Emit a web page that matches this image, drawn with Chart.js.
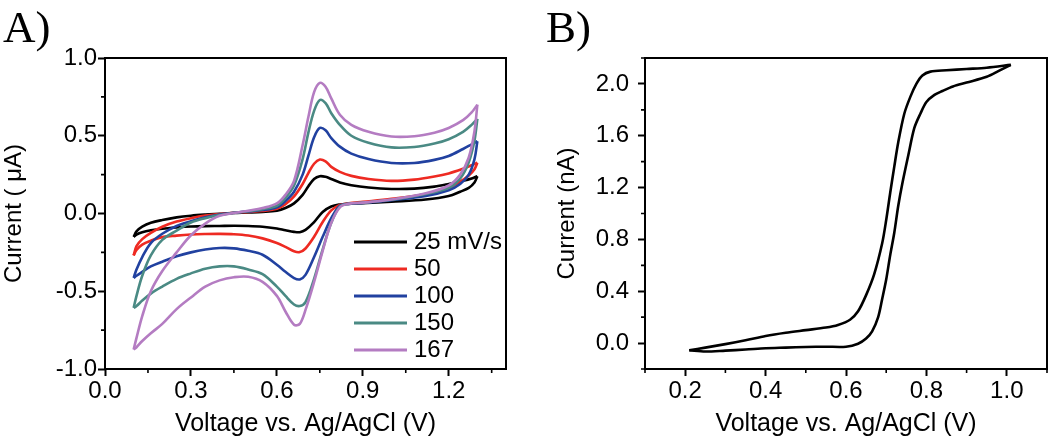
<!DOCTYPE html>
<html>
<head>
<meta charset="utf-8">
<script src="https://cdn.jsdelivr.net/npm/chart.js@4.4.1/dist/chart.umd.min.js"></script>
<style>
  html, body { margin: 0; padding: 0; background: #fff; }
  #wrap { position: relative; width: 1050px; height: 447px; overflow: hidden; }
  .panel { position: absolute; top: 0; width: 525px; height: 447px; }
  .panel canvas { display: block; }
  #panelA { left: 0; }
  #panelB { left: 525px; }
  .tag { position: absolute; font-family: "Liberation Serif", "Times New Roman", serif; font-size: 45px; line-height: 1; color: #000; }
</style>
</head>
<body>
<div id="wrap">
  <div class="panel" id="panelA"><canvas id="cvChart" width="525" height="447"></canvas></div>
  <div class="panel" id="panelB"><canvas id="sweepChart" width="525" height="447"></canvas></div>
  <div class="tag" style="left:3px;top:5px">A)</div>
  <div class="tag" style="left:546px;top:5px">B)</div>
</div>
<script>
// ---- panel A : cyclic voltammograms at several scan rates ----
const scanRates = ['25 mV/s', '50', '100', '150', '167'];
const rateColors = ['#000000', '#ee2a22', '#2141a0', '#4a8a84', '#b47cc2'];

// potential grid (V) for the anodic (forward) and cathodic (reverse) sweeps
const vForward = [0.10, 0.11, 0.13, 0.16, 0.20, 0.25, 0.30, 0.35, 0.40, 0.45, 0.50, 0.55,
  0.60, 0.63, 0.66, 0.69, 0.71, 0.73, 0.75, 0.77, 0.79, 0.82, 0.86, 0.92, 1.00, 1.08, 1.15, 1.20, 1.25, 1.28, 1.30];
const vReverse = [1.30, 1.29, 1.27, 1.24, 1.20, 1.12, 1.00, 0.90, 0.85, 0.82, 0.79, 0.76, 0.73, 0.70, 0.68,
  0.66, 0.63, 0.60, 0.55, 0.50, 0.45, 0.40, 0.35, 0.30, 0.25, 0.20, 0.16, 0.13, 0.11, 0.10];

// current (uA)
const i25Fwd = [-0.15, -0.115, -0.085, -0.06, -0.042, -0.025, -0.014, -0.007, -0.002, 0.003, 0.006, 0.01,
  0.018, 0.035, 0.065, 0.12, 0.175, 0.222, 0.24, 0.236, 0.222, 0.2, 0.182, 0.167, 0.158, 0.16, 0.173, 0.19, 0.21, 0.225, 0.24];
const i25Rev = [0.24, 0.2, 0.165, 0.14, 0.112, 0.09, 0.076, 0.066, 0.062, 0.058, 0.045, 0.01, -0.055, -0.105, -0.12,
  -0.118, -0.108, -0.097, -0.085, -0.08, -0.079, -0.08, -0.081, -0.084, -0.09, -0.098, -0.108, -0.12, -0.135, -0.15];

const i50Fwd = [-0.27, -0.21, -0.165, -0.125, -0.085, -0.052, -0.03, -0.013, -0.003, 0.005, 0.01, 0.016,
  0.03, 0.06, 0.11, 0.19, 0.26, 0.32, 0.347, 0.335, 0.3, 0.268, 0.242, 0.222, 0.21, 0.218, 0.238, 0.258, 0.288, 0.31, 0.326];
const i50Rev = [0.326, 0.285, 0.245, 0.205, 0.165, 0.125, 0.094, 0.075, 0.066, 0.055, 0.02, -0.055, -0.15, -0.225, -0.248,
  -0.243, -0.215, -0.19, -0.16, -0.141, -0.133, -0.131, -0.132, -0.135, -0.142, -0.152, -0.175, -0.2, -0.235, -0.27];

const i100Fwd = [-0.414, -0.36, -0.28, -0.19, -0.13, -0.08, -0.05, -0.025, -0.006, 0.005, 0.013, 0.022,
  0.04, 0.08, 0.14, 0.25, 0.37, 0.49, 0.55, 0.535, 0.485, 0.43, 0.385, 0.35, 0.325, 0.325, 0.345, 0.37, 0.415, 0.445, 0.465];
const i100Rev = [0.465, 0.35, 0.25, 0.19, 0.15, 0.113, 0.086, 0.068, 0.062, 0.05, -0.03, -0.15, -0.28, -0.395, -0.424,
  -0.415, -0.375, -0.33, -0.265, -0.24, -0.224, -0.222, -0.232, -0.25, -0.275, -0.31, -0.34, -0.375, -0.4, -0.414];

const i150Fwd = [-0.607, -0.53, -0.4, -0.27, -0.17, -0.11, -0.058, -0.03, -0.01, 0.004, 0.015, 0.028,
  0.05, 0.1, 0.18, 0.35, 0.52, 0.66, 0.73, 0.71, 0.645, 0.57, 0.5, 0.455, 0.425, 0.428, 0.45, 0.478, 0.525, 0.57, 0.609];
const i150Rev = [0.609, 0.47, 0.33, 0.225, 0.165, 0.125, 0.088, 0.07, 0.063, 0.045, -0.06, -0.23, -0.42, -0.57, -0.595,
  -0.585, -0.53, -0.47, -0.39, -0.36, -0.34, -0.34, -0.355, -0.385, -0.42, -0.47, -0.515, -0.56, -0.595, -0.607];

const i167Fwd = [-0.875, -0.8, -0.66, -0.5, -0.37, -0.25, -0.14, -0.065, -0.015, 0.003, 0.018, 0.035,
  0.065, 0.12, 0.21, 0.44, 0.62, 0.78, 0.84, 0.815, 0.74, 0.635, 0.57, 0.525, 0.495, 0.497, 0.52, 0.55, 0.6, 0.65, 0.70];
const i167Rev = [0.70, 0.53, 0.36, 0.25, 0.18, 0.13, 0.09, 0.07, 0.062, 0.04, -0.06, -0.24, -0.44, -0.62, -0.71,
  -0.715, -0.63, -0.53, -0.44, -0.407, -0.41, -0.43, -0.47, -0.54, -0.615, -0.71, -0.77, -0.82, -0.86, -0.875];

const aTicksX = [0, 0.3, 0.6, 0.9, 1.2];
const aTicksY = [-1, -0.5, 0, 0.5, 1];
const aMinorX = [0.15, 0.45, 0.75, 1.05, 1.35];
const aMinorY = [-0.75, -0.25, 0.25, 0.75];

// ---- panel B : single sweep (nA) ----
const bVoltUp = [0.21, 0.25, 0.30, 0.35, 0.40, 0.45, 0.50, 0.55, 0.58, 0.61, 0.63, 0.65, 0.67, 0.69,
  0.70, 0.71, 0.72, 0.73, 0.745, 0.76, 0.775, 0.79, 0.81, 0.85, 0.90, 0.95, 1.01];
const bCurrUp = [-0.055, -0.035, -0.008, 0.022, 0.055, 0.08, 0.1, 0.12, 0.14, 0.18, 0.245, 0.37, 0.53, 0.77,
  0.95, 1.16, 1.36, 1.55, 1.77, 1.9, 2.0, 2.065, 2.095, 2.105, 2.115, 2.125, 2.147];
const bVoltDown = [1.01, 0.98, 0.95, 0.90, 0.866, 0.84, 0.82, 0.80, 0.785, 0.77, 0.755, 0.74, 0.73, 0.72, 0.71,
  0.70, 0.69, 0.68, 0.665, 0.65, 0.63, 0.60, 0.55, 0.50, 0.45, 0.40, 0.35, 0.30, 0.25, 0.21];
const bCurrDown = [2.147, 2.1, 2.055, 2.01, 1.98, 1.945, 1.915, 1.86, 1.77, 1.66, 1.45, 1.23, 1.06, 0.85, 0.68,
  0.49, 0.34, 0.2, 0.09, 0.035, -0.005, -0.028, -0.028, -0.03, -0.035, -0.04, -0.05, -0.058, -0.065, -0.055];

const bTicksX = [0.2, 0.4, 0.6, 0.8, 1.0];
const bTicksY = [0, 0.4, 0.8, 1.2, 1.6, 2.0];
const bMinorX = [0.1, 0.3, 0.5, 0.7, 0.9, 1.1];
const bMinorY = [-0.2, 0.2, 0.6, 1.0, 1.4, 1.8, 2.2];

const FONT = '"Liberation Sans", Arial, sans-serif';
Chart.defaults.font.family = FONT;
Chart.defaults.font.size = 24;
Chart.defaults.color = '#000';

const toPoints = (xs, ys) => xs.map((x, i) => ({ x: x, y: ys[i] }));
const fixedTicks = values => scale => { scale.ticks = values.map(v => ({ value: v })); };

// box round the plot + short minor ticks
const frameAndMinorTicks = {
  id: 'frameAndMinorTicks',
  afterDraw(chart, args, opts) {
    const { ctx, chartArea: a, scales } = chart;
    ctx.save();
    ctx.strokeStyle = '#000';
    ctx.lineWidth = 2;
    ctx.strokeRect(a.left, a.top, a.right - a.left, a.bottom - a.top);
    ctx.lineWidth = 1.6;
    ctx.beginPath();
    opts.minorX.forEach(v => {
      const px = scales.x.getPixelForValue(v);
      ctx.moveTo(px, a.bottom);
      ctx.lineTo(px, a.bottom + 4);
    });
    opts.minorY.forEach(v => {
      const py = scales.y.getPixelForValue(v);
      ctx.moveTo(a.left, py);
      ctx.lineTo(a.left - 4, py);
    });
    ctx.stroke();
    ctx.restore();
  }
};

// legend drawn inside the plot area
const insideLegend = {
  id: 'insideLegend',
  afterDraw(chart, args, opts) {
    if (!opts.labels) return;
    const ctx = chart.ctx;
    ctx.save();
    ctx.font = '24px ' + FONT;
    ctx.textBaseline = 'middle';
    ctx.textAlign = 'left';
    opts.labels.forEach((label, i) => {
      const y = opts.y + i * opts.rowHeight;
      ctx.strokeStyle = opts.colors[i];
      ctx.lineWidth = 3;
      ctx.beginPath();
      ctx.moveTo(opts.x, y);
      ctx.lineTo(opts.x + opts.lineLength, y);
      ctx.stroke();
      ctx.fillStyle = '#000';
      ctx.fillText(label, opts.x + opts.lineLength + 7, y);
    });
    ctx.restore();
  }
};

function axisX(min, max, ticks, padding) {
  return {
    type: 'linear', min: min, max: max,
    afterBuildTicks: fixedTicks(ticks),
    afterFit: s => { s.height = 78; },
    border: { display: false },
    grid: { drawOnChartArea: false, drawTicks: true, tickLength: 7, tickWidth: 2, tickColor: '#000' },
    ticks: { callback: v => v.toFixed(1), padding: padding, maxRotation: 0, autoSkip: false },
    title: { display: true, text: 'Voltage vs. Ag/AgCl (V)', font: { size: 25 }, padding: { top: 0, bottom: 8 } }
  };
}

function axisY(min, max, ticks, width, padding, title, titlePad) {
  return {
    type: 'linear', min: min, max: max,
    afterBuildTicks: fixedTicks(ticks),
    afterFit: s => { s.width = width; },
    border: { display: false },
    grid: { drawOnChartArea: false, drawTicks: true, tickLength: 7, tickWidth: 2, tickColor: '#000' },
    ticks: { callback: v => v.toFixed(1), padding: padding, autoSkip: false },
    title: { display: true, text: title, font: { size: 24 }, padding: { top: titlePad, bottom: 0 } }
  };
}

const cvSets = [
  [i25Fwd, i25Rev], [i50Fwd, i50Rev], [i100Fwd, i100Rev], [i150Fwd, i150Rev], [i167Fwd, i167Rev]
];
const cvDatasets = [];
cvSets.forEach((pair, k) => {
  [toPoints(vForward, pair[0]), toPoints(vReverse, pair[1])].forEach(pts => {
    cvDatasets.push({
      label: scanRates[k], data: pts,
      borderColor: rateColors[k], borderWidth: 2.6,
      showLine: true, pointRadius: 0, tension: 0.35, fill: false,
      order: 10 - k
    });
  });
});

new Chart(document.getElementById('cvChart'), {
  type: 'scatter',
  data: { datasets: cvDatasets },
  options: {
    responsive: false, animation: false, devicePixelRatio: 1, events: [],
    layout: { padding: { top: 58, right: 19, left: 0, bottom: 0 } },
    plugins: {
      legend: { display: false }, tooltip: { enabled: false },
      frameAndMinorTicks: { minorX: aMinorX, minorY: aMinorY },
      insideLegend: { labels: scanRates, colors: rateColors, x: 354, y: 242, rowHeight: 27, lineLength: 53 }
    },
    scales: {
      x: axisX(0, 1.4, aTicksX, 1),
      y: axisY(-1, 1, aTicksY, 105, 1, 'Current ( \u03bcA)', 0)
    }
  },
  plugins: [frameAndMinorTicks, insideLegend]
});

new Chart(document.getElementById('sweepChart'), {
  type: 'scatter',
  data: {
    datasets: [
      { data: toPoints(bVoltUp, bCurrUp), borderColor: '#000', borderWidth: 2.6, showLine: true, pointRadius: 0, tension: 0.3 },
      { data: toPoints(bVoltDown, bCurrDown), borderColor: '#000', borderWidth: 2.6, showLine: true, pointRadius: 0, tension: 0.3 }
    ]
  },
  options: {
    responsive: false, animation: false, devicePixelRatio: 1, events: [],
    layout: { padding: { top: 58, right: 3, left: 0, bottom: 0 } },
    plugins: {
      legend: { display: false }, tooltip: { enabled: false },
      frameAndMinorTicks: { minorX: bMinorX, minorY: bMinorY },
      insideLegend: {}
    },
    scales: {
      x: axisX(0.1, 1.1, bTicksX, 1),
      y: axisY(-0.2, 2.2, bTicksY, 120, 9, 'Current (nA)', 28)
    }
  },
  plugins: [frameAndMinorTicks, insideLegend]
});
</script>
</body>
</html>
